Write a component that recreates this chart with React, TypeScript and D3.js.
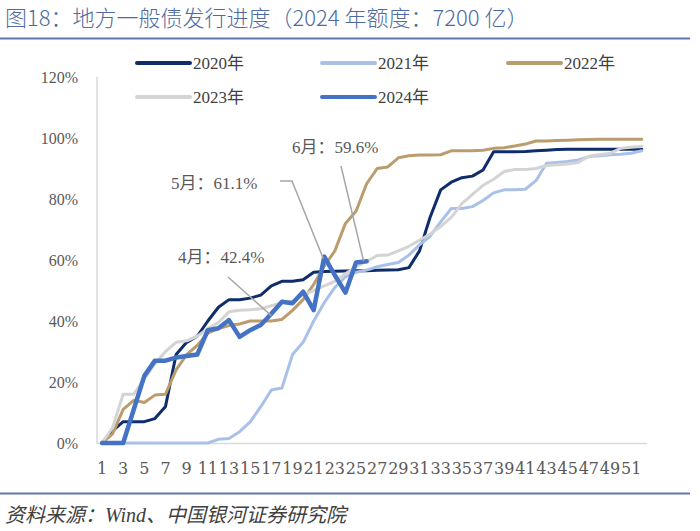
import React, { useEffect } from 'react';
import * as d3 from 'd3';

// weeks of the year (x categories)
const weeks = [
  1, 2, 3, 4, 5, 6, 7, 8, 9, 10, 11, 12, 13, 14, 15, 16, 17, 18, 19, 20, 21, 22, 23, 24, 25, 26,
  27, 28, 29, 30, 31, 32, 33, 34, 35, 36, 37, 38, 39, 40, 41, 42, 43, 44, 45, 46, 47, 48, 49, 50, 51, 52,
];
const xTickLabels = weeks.filter((w) => w % 2 === 1);
const yTicks = [0, 0.2, 0.4, 0.6, 0.8, 1.0, 1.2];

// cumulative issuance progress, %
const s2020 = [
  0, 4, 7, 7, 7, 8, 12, 29, 33, 35, 40, 44.5, 47, 47, 47.5, 48.5, 51.5, 53, 53, 53.5, 56, 56.2, 56.3, 56.4, 56.5, 56.5,
  56.6, 56.7, 56.8, 57.5, 63, 74, 83, 85.5, 87, 87.5, 89.5, 95.5, 95.5, 95.5, 95.6, 95.8, 96, 96.2, 96.3, 96.3, 96.3, 96.3, 96.3, 96.3, 96.3, 96.3,
];
const s2021 = [
  0, 0, 0, 0, 0, 0, 0, 0, 0, 0, 0, 1.2, 1.5, 3.7, 6.9, 11.9, 17.4, 18, 29, 33, 40, 46, 51, 54.5, 56, 56.7,
  57.8, 58.5, 59.2, 61.6, 65, 67.8, 72.5, 76.9, 76.9, 77.5, 79.5, 82, 83, 83, 83.2, 86, 91.7, 92, 92.3, 92.8, 93.9, 94.2, 94.5, 94.7, 95, 95.8,
];
const s2022 = [
  0, 3, 11, 14, 13.3, 15.7, 16, 24, 29, 32, 36, 37.5, 38.5, 39, 40, 40, 40, 40.5, 43.5, 47, 52, 58, 63, 72, 76, 85,
  90, 90.5, 93.5, 94.2, 94.4, 94.4, 94.5, 95.8, 95.8, 95.8, 96, 96.6, 96.8, 97.4, 98, 99, 99, 99.2, 99.3, 99.4, 99.5, 99.6, 99.6, 99.6, 99.6, 99.6,
];
const s2023 = [
  0, 5, 16, 16, 21, 26, 30, 33, 33.5, 35, 37.5, 39.5, 43, 43.5, 43.7, 44, 45, 46, 46.5, 48.5, 50, 51.5, 53, 55.5, 57.8, 59.5,
  61.5, 61.6, 63, 64.5, 66.5, 68.5, 71, 74, 78.5, 81.5, 84.5, 86.5, 89, 89.7, 89.7, 90, 91, 91.2, 91.5, 92, 94, 94.5, 95, 96.6, 97, 97.2,
];
const s2024 = [
  0, 0, 0, 11, 22, 27, 27, 28, 28.5, 29, 37, 37.6, 40.3, 34.8, 37, 38.7, 42.4, 46.3, 45.8, 49.6, 43.6, 61.1, 55, 49.3, 59.2, 59.6,
];

const seriesNames = ['2020年', '2021年', '2022年', '2023年', '2024年'];
const seriesValues = [s2020, s2021, s2022, s2023, s2024];
const seriesColors = ['#0f2c6b', '#a9c1e8', '#bb9c6c', '#d4d4d4', '#4472c4'];
const seriesWidths = [3, 3, 3, 3, 4.5];

// annotations: label, week index
const notes = [
  { text: '4月：42.4%', week: 17 },
  { text: '5月：61.1%', week: 22 },
  { text: '6月：59.6%', week: 26 },
];

const W = 700;
const H = 531;
const serif = '"Liberation Serif", "DejaVu Serif", "Noto Sans CJK SC", serif';
const wideSerif = '"DejaVu Serif", "Liberation Serif", serif';
const cjk = '"Noto Sans CJK SC", "Liberation Sans", sans-serif';

export default function App() {
  useEffect(() => {
    document.body.style.margin = '0';
  }, []);

  const x = d3.scalePoint<number>().domain(weeks).range([102, 641.8]);
  const y = d3.scaleLinear().domain([0, 1.2]).range([443, 77]);

  const line = d3
    .line<number>()
    .x((_, i) => x(weeks[i])!)
    .y((d) => y(d / 100));

  const legendPos = [
    { x: 137, y: 63 },
    { x: 322, y: 63 },
    { x: 508, y: 63 },
    { x: 137, y: 97 },
    { x: 322, y: 97 },
  ];

  // leader lines for the annotations
  const s24 = (w: number) => ({ x: x(w)!, y: y(s2024[w - 1] / 100) });
  const p4 = s24(notes[0].week);
  const p5 = s24(notes[1].week);
  const p6 = s24(notes[2].week);

  return (
    <svg width={W} height={H} style={{ display: 'block', background: '#fff' }}>
      {/* title */}
      <text x={5} y={26} fontFamily={cjk} fontSize={22} fontWeight={300} fill="#4e6a9e">
        图18：地方一般债发行进度（2024 年额度：7200 亿）
      </text>
      <line x1={0} x2={690} y1={38.5} y2={38.5} stroke="#6077ad" strokeWidth={2} />

      {/* axes */}
      <line x1={97} x2={97} y1={77} y2={444} stroke="#d9d9d9" strokeWidth={1.5} />
      <line x1={97} x2={647} y1={443.5} y2={443.5} stroke="#d9d9d9" strokeWidth={1.5} />
      {yTicks.map((t) => (
        <text key={t} x={78} y={y(t)} dy="0.35em" textAnchor="end" fontFamily={serif} fontSize={16} fill="#595959">
          {d3.format('.0%')(t)}
        </text>
      ))}
      {xTickLabels.map((w) => (
        <text key={w} x={x(w)} y={474} textAnchor="middle" fontFamily={wideSerif} fontSize={16} fill="#595959">
          {w}
        </text>
      ))}

      {/* series */}
      {seriesValues.map((vals, k) => (
        <path
          key={k}
          d={line(vals) ?? ''}
          fill="none"
          stroke={seriesColors[k]}
          strokeWidth={seriesWidths[k]}
          strokeLinejoin="round"
          strokeLinecap="round"
        />
      ))}

      {/* legend */}
      {seriesNames.map((name, k) => (
        <g key={name} transform={`translate(${legendPos[k].x},${legendPos[k].y})`}>
          <line x1={0} x2={53} y1={0} y2={0} stroke={seriesColors[k]} strokeWidth={4} strokeLinecap="round" />
          <text x={56} y={0} dy="0.35em" fontFamily={serif} fontSize={17} fill="#404040">
            {name}
          </text>
        </g>
      ))}

      {/* annotations */}
      <g stroke="#a6a6a6" strokeWidth={1.5} fill="none">
        <line x1={228} y1={277} x2={p4.x} y2={p4.y + 2} />
        <polyline points={`280,181 292,181 ${p5.x - 1},${p5.y + 2}`} />
        <line x1={341} y1={166} x2={p6.x - 3} y2={p6.y} />
      </g>
      <g fontFamily={serif} fontSize={17} fill="#595959">
        <text x={178} y={257} dy="0.35em">{notes[0].text}</text>
        <text x={171} y={183} dy="0.35em">{notes[1].text}</text>
        <text x={292} y={147} dy="0.35em">{notes[2].text}</text>
      </g>

      {/* source */}
      <line x1={0} x2={690} y1={493.5} y2={493.5} stroke="#6077ad" strokeWidth={2} />
      <text x={5} y={522} fontFamily={serif} fontSize={20} fontStyle="italic" fill="#404040">
        资料来源：Wind、中国银河证券研究院
      </text>
    </svg>
  );
}
